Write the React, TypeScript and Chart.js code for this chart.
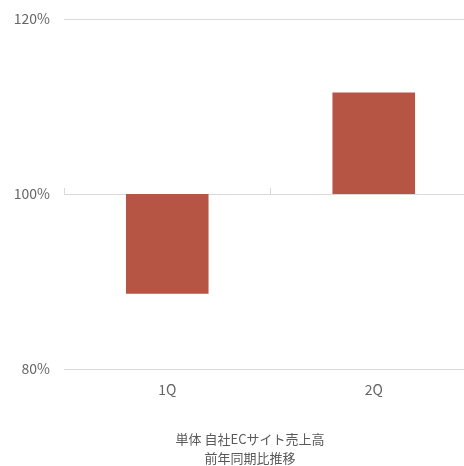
import React, { useEffect, useRef } from "react";
import { Chart, registerables } from "chart.js";

Chart.register(...registerables);

const categories = ["1Q", "2Q"];
const baseValues = [100, 100];
const endValues = [88.6, 111.6];
const yTicks = [80, 100, 120];
const titleLines = ["単体 自社ECサイト売上高", "前年同期比推移"];

const FONT = "'Noto Sans CJK JP', 'Noto Sans', sans-serif";
const GRID = "#d9d9d9";
const TEXT = "#666666";

export default function App() {
  const ref = useRef<HTMLCanvasElement | null>(null);
  useEffect(() => {
    if (!ref.current) return;
    const chart = new Chart(ref.current, {
      type: "bar",
      data: {
        labels: categories,
        datasets: [
          {
            data: categories.map((_, i) => [baseValues[i], endValues[i]]) as any,
            backgroundColor: "#b75545",
            borderWidth: 0,
            barPercentage: 0.4,
            categoryPercentage: 1,
            xAxisID: "x",
            yAxisID: "y",
          },
        ],
      },
      options: {
        animation: false,
        responsive: false,
        devicePixelRatio: 1,
        layout: { padding: { top: 19, right: 0, bottom: 0, left: 0 } },
        plugins: {
          legend: { display: false },
          tooltip: { enabled: false },
          title: {
            display: true,
            position: "bottom",
            text: titleLines,
            color: "#595959",
            font: { family: FONT, size: 13, weight: "normal", lineHeight: 1.5 },
            padding: { top: 31, bottom: 0 },
          },
        },
        scales: {
          x: {
            type: "category",
            position: "bottom",
            offset: true,
            grid: { display: false, drawTicks: false },
            border: { display: false },
            ticks: {
              color: TEXT,
              padding: 12,
              font: { family: FONT, size: 14 },
            },
            afterFit: (s: any) => {
              s.height = 29;
            },
          },
          x2: {
            type: "category",
            position: { y: 100 } as any,
            offset: true,
            grid: {
              offset: true,
              drawOnChartArea: false,
              drawTicks: true,
              tickLength: -6,
              color: GRID,
            },
            border: { display: false },
            ticks: { display: false },
          },
          y: {
            min: 80,
            max: 120,
            afterBuildTicks: (s: any) => {
              s.ticks = yTicks.map((v) => ({ value: v }));
            },
            grid: { color: GRID, drawTicks: false },
            border: { display: false },
            ticks: {
              color: TEXT,
              padding: 14,
              font: { family: FONT, size: 14 },
              callback: (v: any) => v + "%",
            },
            afterFit: (s: any) => {
              s.width = 64;
              s.paddingTop = 0;
              s.paddingBottom = 0;
            },
          },
          yR: {
            type: "linear",
            position: "right",
            display: true,
            grid: { display: false, drawTicks: false },
            border: { display: false },
            ticks: { display: false },
            afterFit: (s: any) => {
              s.width = 23;
              s.paddingTop = 0;
              s.paddingBottom = 0;
            },
          },
        },
      },
    });
    return () => chart.destroy();
  }, []);
  return (
    <div
      style={{
        position: "fixed",
        left: 0,
        top: 0,
        width: 464,
        height: 466,
        overflow: "hidden",
        background: "#fff",
      }}
    >
      <canvas ref={ref} width={500} height={468} style={{ display: "block" }} />
    </div>
  );
}
